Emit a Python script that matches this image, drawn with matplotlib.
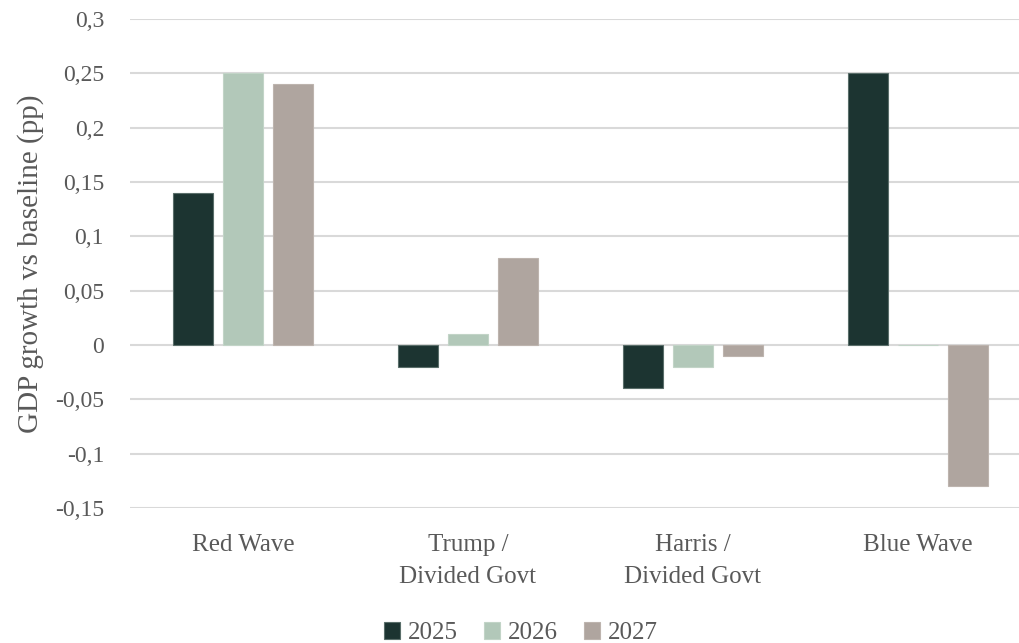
import matplotlib.pyplot as plt
import numpy as np

categories = ["Red Wave", "Trump /\nDivided Govt", "Harris /\nDivided Govt", "Blue Wave"]
years = ["2025", "2026", "2027"]
gdp_2025 = [0.14, -0.02, -0.04, 0.25]
gdp_2026 = [0.25, 0.01, -0.02, 0.0]
gdp_2027 = [0.24, 0.08, -0.01, -0.13]
yticks = [-0.15, -0.1, -0.05, 0, 0.05, 0.1, 0.15, 0.2, 0.25, 0.3]

colors = ["#1c3431", "#b2c8b9", "#afa59f"]
edges = ["#5a6e6a", "#c2d4c7", "#bdb4ae"]
text_color = "#595959"

plt.rcParams["font.family"] = ["Liberation Serif", "DejaVu Serif"]

fig = plt.figure(figsize=(10.2, 6.43), dpi=100)
ax = fig.add_axes([130.5 / 1020, 135 / 643, 900 / 1020, 489 / 643])

x = np.arange(len(categories))
step = 0.222
width = 0.178
series = [gdp_2025, gdp_2026, gdp_2027]
for i, vals in enumerate(series):
    ax.bar(x + (i - 1) * step, vals, width, color=colors[i],
           edgecolor=edges[i], linewidth=0.8, label=years[i], zorder=3)

ax.set_xlim(-0.5, 3.5)
ax.set_ylim(-0.15, 0.3)
ax.set_yticks(yticks)
ax.set_yticklabels([f"{t:g}".replace(".", ",") for t in yticks])
ax.set_xticks(x)
ax.set_xticklabels(categories, linespacing=1.55)
ax.grid(axis="y", color="#d9d9d9", linewidth=1.5, zorder=0)
for s in ax.spines.values():
    s.set_visible(False)
ax.tick_params(axis="both", length=0, colors=text_color)
ax.tick_params(axis="y", labelsize=17, pad=19)
ax.tick_params(axis="x", labelsize=18, pad=19)
ax.set_ylabel("GDP growth vs baseline (pp)", fontsize=21, color=text_color)
ax.yaxis.set_label_coords(-86 / 900, 0.5)

fig.legend(loc="center", bbox_to_anchor=(521 / 1020, 1 - 633 / 643), ncol=3, frameon=False,
           fontsize=18, labelcolor=text_color, handlelength=0.65, handleheight=0.65,
           handletextpad=0.3, columnspacing=1.05)

fig.savefig("out.png", dpi=100)
